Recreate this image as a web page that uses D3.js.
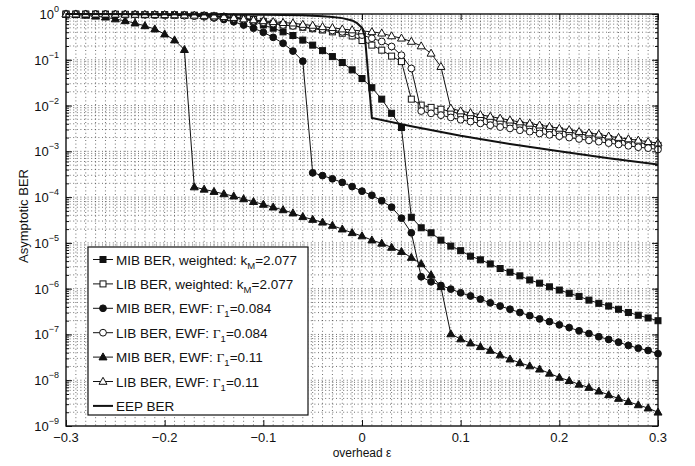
<!DOCTYPE html>
<html>
<head>
<meta charset="utf-8">
<script src="https://cdn.jsdelivr.net/npm/d3@7"></script>
<style>
  body { margin: 0; background: #fff; }
  text { font-family: "Liberation Sans", Arial, Helvetica, sans-serif; fill: #111; }
</style>
</head>
<body>
<svg id="chart" width="695" height="466"></svg>
<script>
// overhead values (x), one marker every 0.01
const eps = [-0.30,-0.29,-0.28,-0.27,-0.26,-0.25,-0.24,-0.23,-0.22,-0.21,
             -0.20,-0.19,-0.18,-0.17,-0.16,-0.15,-0.14,-0.13,-0.12,-0.11,
             -0.10,-0.09,-0.08,-0.07,-0.06,-0.05,-0.04,-0.03,-0.02,-0.01,
              0.00, 0.01, 0.02, 0.03, 0.04, 0.05, 0.06, 0.07, 0.08, 0.09,
              0.10, 0.11, 0.12, 0.13, 0.14, 0.15, 0.16, 0.17, 0.18, 0.19,
              0.20, 0.21, 0.22, 0.23, 0.24, 0.25, 0.26, 0.27, 0.28, 0.29, 0.30];

// all series are log10(BER)
const mibWeighted = [-0.003,-0.003,-0.004,-0.004,-0.005,-0.006,-0.007,-0.008,-0.010,-0.012,
  -0.014,-0.017,-0.020,-0.025,-0.030,-0.040,-0.055,-0.075,-0.10,-0.16,
  -0.24,-0.31,-0.39,-0.47,-0.57,-0.68,-0.80,-0.93,-1.06,-1.22,
  -1.41,-1.61,-1.86,-2.17,-2.48,-4.44,-4.67,-4.78,-4.94,-5.07,
  -5.17,-5.29,-5.37,-5.46,-5.56,-5.64,-5.72,-5.81,-5.88,-5.96,
  -6.03,-6.10,-6.17,-6.25,-6.32,-6.38,-6.45,-6.52,-6.58,-6.64,-6.70];

const libWeighted = [-0.002,-0.003,-0.004,-0.005,-0.006,-0.008,-0.010,-0.012,-0.014,-0.017,
  -0.020,-0.024,-0.029,-0.035,-0.043,-0.053,-0.065,-0.075,-0.09,-0.12,
  -0.16,-0.20,-0.23,-0.26,-0.29,-0.32,-0.35,-0.39,-0.42,-0.48,
  -0.58,-0.68,-0.79,-0.92,-1.04,-1.86,-1.99,-2.04,-2.08,-2.13,
  -2.18,-2.22,-2.26,-2.30,-2.34,-2.37,-2.41,-2.44,-2.48,-2.51,
  -2.55,-2.58,-2.62,-2.65,-2.68,-2.72,-2.75,-2.78,-2.81,-2.84,-2.87];

const mibEwf084 = [-0.004,-0.005,-0.006,-0.007,-0.008,-0.009,-0.011,-0.013,-0.015,-0.018,
  -0.022,-0.028,-0.035,-0.045,-0.06,-0.085,-0.12,-0.17,-0.24,-0.31,
  -0.40,-0.51,-0.64,-0.81,-1.03,-3.47,-3.53,-3.60,-3.68,-3.77,
  -3.87,-3.96,-4.08,-4.22,-4.46,-4.78,-5.74,-5.85,-5.93,-6.01,
  -6.09,-6.16,-6.23,-6.31,-6.38,-6.45,-6.52,-6.59,-6.66,-6.72,
  -6.79,-6.85,-6.92,-6.98,-7.05,-7.11,-7.17,-7.24,-7.30,-7.35,-7.42];

const libEwf084 = [-0.003,-0.004,-0.005,-0.006,-0.007,-0.009,-0.011,-0.013,-0.016,-0.019,
  -0.023,-0.028,-0.034,-0.042,-0.052,-0.065,-0.08,-0.10,-0.12,-0.15,
  -0.18,-0.21,-0.24,-0.26,-0.28,-0.30,-0.33,-0.36,-0.39,-0.42,
  -0.46,-0.53,-0.60,-0.71,-0.90,-1.19,-2.12,-2.17,-2.21,-2.26,
  -2.31,-2.35,-2.39,-2.43,-2.47,-2.50,-2.54,-2.57,-2.61,-2.64,
  -2.67,-2.70,-2.73,-2.76,-2.79,-2.82,-2.85,-2.88,-2.91,-2.93,-2.96];

const mibEwf11 = [-0.005,-0.015,-0.03,-0.05,-0.07,-0.11,-0.15,-0.20,-0.26,-0.33,
  -0.44,-0.57,-0.78,-3.78,-3.83,-3.88,-3.93,-3.98,-4.04,-4.10,
  -4.16,-4.22,-4.28,-4.35,-4.43,-4.49,-4.55,-4.62,-4.70,-4.78,
  -4.85,-4.94,-5.01,-5.10,-5.19,-5.32,-5.46,-5.70,-5.96,-6.99,
  -7.10,-7.19,-7.27,-7.35,-7.45,-7.54,-7.62,-7.69,-7.76,-7.85,
  -7.94,-8.01,-8.09,-8.16,-8.24,-8.32,-8.40,-8.47,-8.54,-8.61,-8.70];

const libEwf11 = [-0.002,-0.003,-0.004,-0.005,-0.006,-0.007,-0.008,-0.010,-0.012,-0.014,
  -0.017,-0.020,-0.024,-0.029,-0.035,-0.045,-0.06,-0.08,-0.11,-0.13,
  -0.15,-0.17,-0.19,-0.20,-0.23,-0.25,-0.28,-0.30,-0.33,-0.35,
  -0.37,-0.39,-0.42,-0.48,-0.53,-0.60,-0.70,-0.86,-1.15,-2.06,
  -2.12,-2.16,-2.20,-2.24,-2.28,-2.32,-2.36,-2.39,-2.43,-2.46,
  -2.50,-2.53,-2.57,-2.60,-2.63,-2.67,-2.70,-2.73,-2.76,-2.79,-2.82];

// EEP curve has no markers, so it has its own x points
const eepX = [-0.30,-0.20,-0.10,-0.06,-0.04,-0.03,-0.02,-0.01,-0.005,0.0,0.003,0.01,0.05,0.10,0.15,0.20,0.25,0.30];
const eepY = [-0.002,-0.005,-0.015,-0.03,-0.05,-0.065,-0.09,-0.14,-0.20,-0.30,-0.50,-2.27,-2.45,-2.66,-2.84,-3.00,-3.15,-3.29];

const xTicks = [-0.3,-0.2,-0.1,0,0.1,0.2,0.3];
const xTickLabels = ["\u22120.3","\u22120.2","\u22120.1","0","0.1","0.2","0.3"];
const yExponents = [0,-1,-2,-3,-4,-5,-6,-7,-8,-9];

const svg = d3.select("#chart");
const pLeft = 66, pRight = 658, pTop = 14, pBottom = 426;

const x = d3.scaleLinear().domain([-0.3, 0.3]).range([pLeft, pRight]);
const y = d3.scaleLog().domain([1e-9, 1]).range([pBottom, pTop]);

// grid (dotted, major and minor look the same)
const minorY = [];
yExponents.forEach(e => {
    if (e === 0) return;
    for (let m = 1; m <= 9; m++) minorY.push(m * Math.pow(10, e));
});
const grid = svg.append("g")
    .attr("stroke", "#333")
    .attr("stroke-width", 0.7)
    .attr("stroke-dasharray", "1,2.6");

grid.selectAll(".gx").data(eps.slice(1, -1)).enter().append("line")
    .attr("x1", d => x(d)).attr("x2", d => x(d))
    .attr("y1", pTop).attr("y2", pBottom);
grid.selectAll(".gy").data(minorY.filter(v => v > 1e-9)).enter().append("line")
    .attr("x1", pLeft).attr("x2", pRight)
    .attr("y1", d => y(d)).attr("y2", d => y(d));

// ticks, all pointing inwards
const majorY = yExponents.map(e => Math.pow(10, e));
const tickGroup = (axis, tr) => {
    const g = svg.append("g").attr("transform", tr).call(axis);
    g.select(".domain").remove();
    g.selectAll("text").remove();
    g.selectAll("line").attr("stroke", "#111");
};
tickGroup(d3.axisBottom(x).tickValues(xTicks).tickSizeInner(-6).tickSizeOuter(0), `translate(0,${pBottom})`);
tickGroup(d3.axisTop(x).tickValues(xTicks).tickSizeInner(-6).tickSizeOuter(0), `translate(0,${pTop})`);
tickGroup(d3.axisLeft(y).tickValues(majorY).tickSizeInner(-6).tickSizeOuter(0), `translate(${pLeft},0)`);
tickGroup(d3.axisRight(y).tickValues(majorY).tickSizeInner(-6).tickSizeOuter(0), `translate(${pRight},0)`);
tickGroup(d3.axisLeft(y).tickValues(minorY).tickSizeInner(-3).tickSizeOuter(0), `translate(${pLeft},0)`);
tickGroup(d3.axisRight(y).tickValues(minorY).tickSizeInner(-3).tickSizeOuter(0), `translate(${pRight},0)`);

// tick labels
svg.append("g").selectAll("text").data(xTicks).enter().append("text")
    .attr("x", d => x(d)).attr("y", 442)
    .attr("text-anchor", "middle")
    .attr("font-size", 13)
    .text((d, i) => xTickLabels[i]);

const yl = svg.append("g").selectAll("text").data(yExponents).enter().append("text")
    .attr("x", 59).attr("y", d => y(Math.pow(10, d)) + 5)
    .attr("text-anchor", "end")
    .attr("font-size", 13);
yl.append("tspan").text("10");
yl.append("tspan").attr("dy", -7).attr("font-size", 9)
    .text(d => d === 0 ? "0" : "\u2212" + (-d));

svg.append("text")
    .attr("x", (pLeft + pRight) / 2).attr("y", 457)
    .attr("text-anchor", "middle").attr("font-size", 12)
    .text("overhead \u03b5");

svg.append("text")
    .attr("transform", "translate(28,216) rotate(-90)")
    .attr("text-anchor", "middle").attr("font-size", 13)
    .text("Asymptotic BER");

// markers
function drawMarker(g, shape, filled, cx, cy) {
    const fill = filled ? "#111" : "#fff";
    if (shape === "square") {
        g.append("rect").attr("x", cx - 3).attr("y", cy - 3).attr("width", 6).attr("height", 6)
            .attr("fill", fill).attr("stroke", "#111").attr("stroke-width", 1);
    } else if (shape === "circle") {
        g.append("circle").attr("cx", cx).attr("cy", cy).attr("r", 3.4)
            .attr("fill", fill).attr("stroke", "#111").attr("stroke-width", 1);
    } else if (shape === "triangle") {
        g.append("path").attr("d", `M${cx},${cy - 4.2}L${cx + 4},${cy + 2.8}L${cx - 4},${cy + 2.8}Z`)
            .attr("fill", fill).attr("stroke", "#111").attr("stroke-width", 1);
    }
}

const series = [
    { name: "MIB BER, weighted: k", sub: "M", tail: "=2.077", values: mibWeighted, shape: "square", filled: true },
    { name: "LIB BER, weighted: k", sub: "M", tail: "=2.077", values: libWeighted, shape: "square", filled: false },
    { name: "MIB BER, EWF: ", greek: "\u0393", sub: "1", tail: "=0.084", values: mibEwf084, shape: "circle", filled: true },
    { name: "LIB BER, EWF: ", greek: "\u0393", sub: "1", tail: "=0.084", values: libEwf084, shape: "circle", filled: false },
    { name: "MIB BER, EWF: ", greek: "\u0393", sub: "1", tail: "=0.11", values: mibEwf11, shape: "triangle", filled: true },
    { name: "LIB BER, EWF: ", greek: "\u0393", sub: "1", tail: "=0.11", values: libEwf11, shape: "triangle", filled: false }
];

const line = d3.line().x(d => x(d[0])).y(d => y(Math.pow(10, d[1])));

series.forEach(s => {
    const pts = eps.map((e, i) => [e, s.values[i]]);
    const g = svg.append("g");
    g.append("path").attr("d", line(pts))
        .attr("fill", "none").attr("stroke", "#111").attr("stroke-width", 1);
    pts.forEach(p => drawMarker(g, s.shape, s.filled, x(p[0]), y(Math.pow(10, p[1]))));
});

svg.append("path")
    .attr("d", line(eepX.map((e, i) => [e, eepY[i]])))
    .attr("fill", "none").attr("stroke", "#111").attr("stroke-width", 2);

// frame
svg.append("rect")
    .attr("x", pLeft).attr("y", pTop).attr("width", pRight - pLeft).attr("height", pBottom - pTop)
    .attr("fill", "none").attr("stroke", "#111").attr("stroke-width", 1.4);

// legend
const lg = svg.append("g");
lg.append("rect").attr("x", 88).attr("y", 247).attr("width", 220).attr("height", 168)
    .attr("fill", "#fff").attr("stroke", "#111").attr("stroke-width", 1.2);

const rowH = 24.4;
series.concat([{ name: "EEP BER", eep: true }]).forEach((s, i) => {
    const cy = 259.5 + i * rowH;
    lg.append("line").attr("x1", 93).attr("x2", 113).attr("y1", cy).attr("y2", cy)
        .attr("stroke", "#111").attr("stroke-width", s.eep ? 2 : 1);
    if (!s.eep) drawMarker(lg, s.shape, s.filled, 103, cy);
    const t = lg.append("text").attr("x", 116).attr("y", cy + 5).attr("font-size", 13.5);
    t.append("tspan").text(s.name);
    if (s.greek) t.append("tspan").attr("font-family", "'Liberation Serif', 'DejaVu Serif', serif").text(s.greek);
    if (s.sub) t.append("tspan").attr("dy", 4).attr("font-size", 9.5).text(s.sub);
    if (s.tail) t.append("tspan").attr("dy", -4).text(s.tail);
});
</script>
</body>
</html>
